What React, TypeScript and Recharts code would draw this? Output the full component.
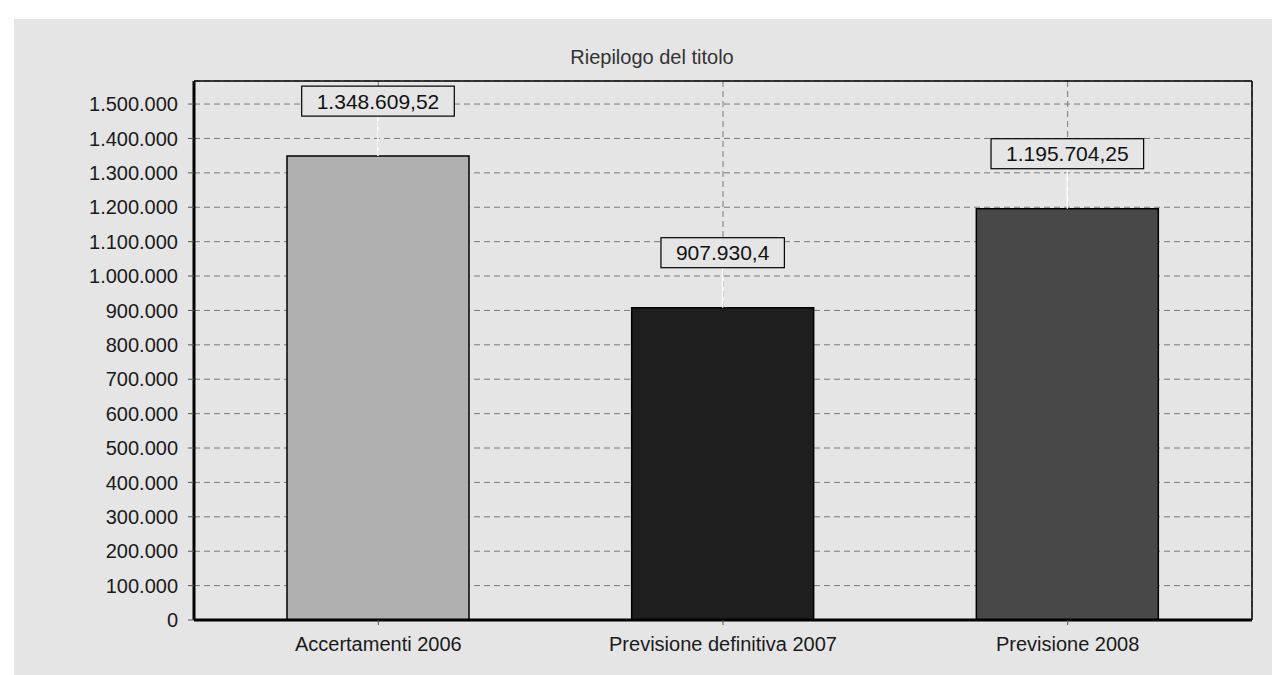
import React from "react";
import {
  BarChart,
  Bar,
  XAxis,
  YAxis,
  CartesianGrid,
  Cell,
  LabelList,
} from "recharts";

const categories = ["Accertamenti 2006", "Previsione definitiva 2007", "Previsione 2008"];
const values = [1348609.52, 907930.4, 1195704.25];
const valueLabels = ["1.348.609,52", "907.930,4", "1.195.704,25"];
const yTicks = [
  0, 100000, 200000, 300000, 400000, 500000, 600000, 700000, 800000, 900000,
  1000000, 1100000, 1200000, 1300000, 1400000, 1500000,
];
const yMax = 1567000;
const barColors = ["#b0b0b0", "#1e1e1e", "#484848"];

const data = categories.map((c, i) => ({ name: c, value: values[i], label: valueLabels[i] }));

const FONT = '"Liberation Sans", Arial, sans-serif';
const BG = "#e5e5e5";

const fmt = (n: number) => String(n).replace(/\B(?=(\d{3})+(?!\d))/g, ".");

const textWidth = (s: string, size: number) => {
  let w = 0;
  for (const ch of s) w += /[0-9]/.test(ch) ? 0.556 : 0.278;
  return w * size;
};

const ValueBox = (props: any) => {
  const { x, y, width, index } = props;
  const label = valueLabels[index];
  const cx = x + width / 2;
  const fs = 21;
  const bw = textWidth(label, fs) + 30;
  const bottom = y - 40;
  const top = bottom - 30;
  return (
    <g>
      <line x1={cx} x2={cx} y1={bottom} y2={y} stroke="#ffffff" strokeWidth={1.5} />
      <rect x={cx - bw / 2} y={top} width={bw} height={30} fill={BG} stroke="#000" strokeWidth={1.2} />
      <text
        x={cx}
        y={top + 15}
        textAnchor="middle"
        dominantBaseline="central"
        fontSize={fs}
        fontFamily={FONT}
        fill="#111"
      >
        {label}
      </text>
    </g>
  );
};

export default function App() {
  return (
    <div>
      <div
        style={{
          position: "absolute",
          left: 14,
          top: 19,
          width: 1258,
          height: 656,
          background: BG,
        }}
      >
        <BarChart
          width={1258}
          height={656}
          data={data}
          margin={{ top: 61, right: 19, bottom: 25, left: 10 }}
          barSize={182}
        >
          <CartesianGrid stroke="#7a7a7a" strokeDasharray="6 4" />
          <XAxis
            dataKey="name"
            padding={{ left: 12, right: 12 }}
            axisLine={{ stroke: "#000", strokeWidth: 3 }}
            tickLine={{ stroke: "#555" }}
            tickSize={5}
            tickMargin={12}
            tick={{ fontSize: 20, fontFamily: FONT, fill: "#1a1a1a" }}
            interval={0}
          />
          <XAxis
            xAxisId="top"
            orientation="top"
            dataKey="name"
            height={1}
            tick={false}
            tickLine={false}
            axisLine={{ stroke: "#000", strokeWidth: 1.5 }}
          />
          <YAxis
            width={170}
            domain={[0, yMax]}
            ticks={yTicks}
            interval={0}
            tickFormatter={fmt}
            axisLine={{ stroke: "#000", strokeWidth: 3 }}
            tickLine={{ stroke: "#555" }}
            tickSize={6}
            tickMargin={10}
            tick={{ fontSize: 20, fontFamily: FONT, fill: "#1a1a1a" }}
            allowDataOverflow
          />
          <YAxis
            yAxisId="right"
            orientation="right"
            width={1}
            domain={[0, yMax]}
            tick={false}
            tickLine={false}
            axisLine={{ stroke: "#000", strokeWidth: 1.5 }}
          />
          <Bar dataKey="value" isAnimationActive={false} stroke="#000" strokeWidth={1.5}>
            {data.map((d, i) => (
              <Cell key={d.name} fill={barColors[i]} />
            ))}
            <LabelList dataKey="value" content={ValueBox} />
          </Bar>
        </BarChart>
      </div>
      <div
        style={{
          position: "absolute",
          left: 502,
          top: 46,
          width: 300,
          textAlign: "center",
          fontFamily: FONT,
          fontSize: 20,
          color: "#333",
          lineHeight: "23px",
        }}
      >
        Riepilogo del titolo
      </div>
    </div>
  );
}
